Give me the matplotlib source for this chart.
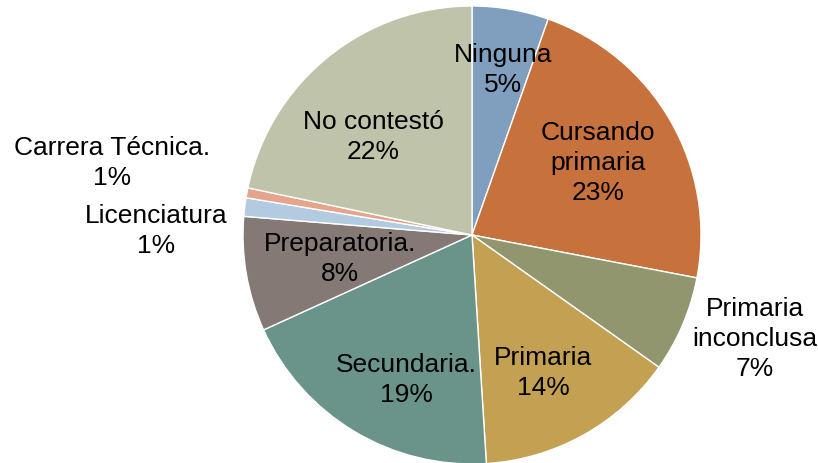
import matplotlib
matplotlib.use("Agg")
import matplotlib.pyplot as plt

plt.rcParams['font.family'] = ['Liberation Sans', 'DejaVu Sans']

# slices, clockwise from 12 o'clock
categories = ["Ninguna", "Cursando\nprimaria", "Primaria\ninconclusa", "Primaria",
              "Secundaria.", "Preparatoria.", "Licenciatura", "Carrera Técnica.",
              "No contestó"]
values = [5.4, 22.6, 6.8, 14.2, 19.2, 8.1, 1.3, 0.7, 21.7]
pct_labels = ["5%", "23%", "7%", "14%", "19%", "8%", "1%", "1%", "22%"]
colors = ["#809FBE", "#C7713C", "#92966E", "#C3A052", "#6A948A",
          "#847975", "#B2CBE0", "#E4A58C", "#BFC3A9"]

# label centres in pixels of the 818x463 image
label_px = [(503, 70), (598, 163), (755, 339), (543, 373), (406, 380),
            (340, 259), (156, 231), (112, 163), (373, 137)]

W, H = 818, 463
cx, cy, r = 472, 235, 229

fig = plt.figure(figsize=(W / 100, H / 100), dpi=100)
ax = fig.add_axes([(cx - r) / W, (H - cy - r) / H, 2 * r / W, 2 * r / H])

ax.pie(values, colors=colors, startangle=90, counterclock=False,
       wedgeprops=dict(edgecolor="white", linewidth=1))
ax.set_xlim(-1, 1)
ax.set_ylim(-1, 1)
ax.set_aspect('auto')
ax.axis('off')

for name, pct, (px, py) in zip(categories, pct_labels, label_px):
    x = (px - cx) / r
    y = (cy - py) / r
    ax.text(x, y, name + "\n" + pct, ha="center", va="center",
            fontsize=19, linespacing=1.3, color="black", clip_on=False)

fig.savefig("out.png", dpi=100)
